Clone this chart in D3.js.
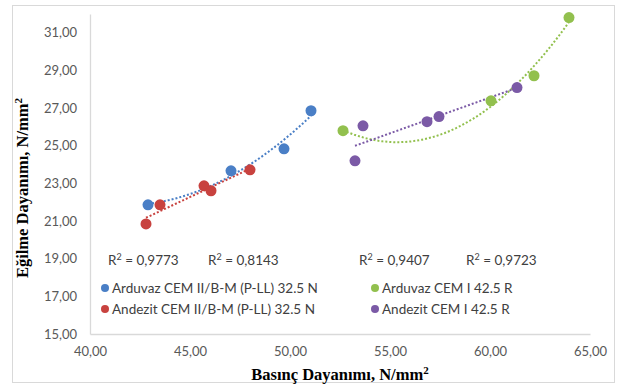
<!DOCTYPE html>
<html>
<head>
<meta charset="utf-8">
<script src="https://cdn.jsdelivr.net/npm/d3@7/dist/d3.min.js"></script>
<style>
	html, body { margin: 0; padding: 0; background: #fff; }
	svg { display: block; }
	.tick text { font-family: Lato, "Open Sans", sans-serif; font-size: 13px; fill: #595959; }
	.axis-title { font-family: "Liberation Serif", "Times New Roman", serif; font-weight: bold; font-size: 16.5px; fill: #000; }
	.lbl { font-family: Lato, "Open Sans", sans-serif; font-size: 13.5px; fill: #404040; }
</style>
</head>
<body>
<div id="js-chart"></div>
<script>
// ticks
const xTicks = [40, 45, 50, 55, 60, 65];
const yTicks = [15, 17, 19, 21, 23, 25, 27, 29, 31];

// series names
const seriesNames = [
	'Arduvaz CEM II/B-M (P-LL) 32.5 N',
	'Andezit CEM II/B-M (P-LL) 32.5 N',
	'Arduvaz CEM I 42.5 R',
	'Andezit CEM I 42.5 R'
];
const seriesColors = ['#4a7fc6', '#c8423f', '#92c04e', '#7b5aa6'];

// basinç (x) / egilme (y) values
const arduvazIIx = [42.9, 47.05, 49.7, 51.05];
const arduvazIIy = [21.86, 23.67, 24.84, 26.86];
const andezitIIx = [42.8, 43.5, 45.7, 46.05, 48.0];
const andezitIIy = [20.85, 21.86, 22.87, 22.61, 23.72];
const arduvazIx = [52.65, 60.05, 62.2, 63.95];
const arduvazIy = [25.8, 27.39, 28.72, 31.81];
const andezitIx = [53.25, 53.65, 56.85, 57.45, 61.35];
const andezitIy = [24.2, 26.06, 26.28, 26.55, 28.09];

// trendline order per series (2 = polynomial, 1 = linear)
const trendOrder = [2, 1, 2, 1];
const r2Labels = ['0,9773', '0,8143', '0,9407', '0,9723'];

const width = 617, height = 385;
const svg = d3.select('#js-chart').append('svg')
	.attr('width', width)
	.attr('height', height);

// chart border
svg.append('rect')
	.attr('x', 12.5).attr('y', 5.5)
	.attr('width', 602).attr('height', 377)
	.attr('fill', '#fff')
	.attr('stroke', '#d9d9d9');

const x = d3.scaleLinear().domain([40, 65]).range([90, 590]);
const y = d3.scaleLinear().domain([15, 32]).range([334, 14]);

const fmt = d3.formatLocale({ decimal: ',', thousands: '.', grouping: [3], currency: ['', ''] }).format('.2f');

const gy = svg.append('g')
	.attr('transform', 'translate(90,0)')
	.call(d3.axisLeft(y).tickValues(yTicks).tickSize(0).tickPadding(13).tickFormat(fmt));
const gx = svg.append('g')
	.attr('transform', 'translate(0,334)')
	.call(d3.axisBottom(x).tickValues(xTicks).tickSize(0).tickPadding(13).tickFormat(fmt));
svg.selectAll('.domain').attr('stroke', '#d9d9d9').attr('stroke-width', 1.3);

// axis titles
const xt = svg.append('text')
	.attr('class', 'axis-title')
	.attr('x', 340).attr('y', 380)
	.attr('text-anchor', 'middle');
xt.append('tspan').text('Basınç Dayanımı, N/mm');
xt.append('tspan').attr('dy', -6).attr('font-size', '11px').text('2');

const yt = svg.append('text')
	.attr('class', 'axis-title')
	.attr('transform', 'translate(28,188) rotate(-90)')
	.attr('text-anchor', 'middle');
yt.append('tspan').text('Eğilme Dayanımı, N/mm');
yt.append('tspan').attr('dy', -6).attr('font-size', '11px').text('2');

// least squares fit
function polyfit(xs, ys, order) {
	const n = order + 1;
	const A = [];
	for (let i = 0; i < n; i++) {
		A.push([]);
		for (let j = 0; j < n; j++) A[i].push(d3.sum(xs, v => Math.pow(v, i + j)));
		A[i].push(d3.sum(xs, (v, k) => Math.pow(v, i) * ys[k]));
	}
	for (let i = 0; i < n; i++) {
		for (let r = i + 1; r < n; r++) {
			const f = A[r][i] / A[i][i];
			for (let c = i; c <= n; c++) A[r][c] -= f * A[i][c];
		}
	}
	const coef = new Array(n).fill(0);
	for (let i = n - 1; i >= 0; i--) {
		let s = A[i][n];
		for (let c = i + 1; c < n; c++) s -= A[i][c] * coef[c];
		coef[i] = s / A[i][i];
	}
	return v => coef.reduce((acc, c, i) => acc + c * Math.pow(v, i), 0);
}

const series = [
	[arduvazIIx, arduvazIIy],
	[andezitIIx, andezitIIy],
	[arduvazIx, arduvazIy],
	[andezitIx, andezitIy]
];

const line = d3.line().x(d => x(d[0])).y(d => y(d[1]));

// trendlines
series.forEach((s, i) => {
	const f = polyfit(s[0], s[1], trendOrder[i]);
	const [lo, hi] = d3.extent(s[0]);
	const pts = d3.range(0, 41).map(k => {
		const v = lo + (hi - lo) * k / 40;
		return [v, f(v)];
	});
	svg.append('path')
		.attr('d', line(pts))
		.attr('fill', 'none')
		.attr('stroke', seriesColors[i])
		.attr('stroke-width', 2)
		.attr('stroke-dasharray', '2,2');
});

// points
series.forEach((s, i) => {
	svg.append('g').selectAll('circle')
		.data(s[0].map((v, k) => [v, s[1][k]]))
		.enter().append('circle')
		.attr('cx', d => x(d[0]))
		.attr('cy', d => y(d[1]))
		.attr('r', 5.5)
		.attr('fill', seriesColors[i]);
});

// R2 labels
const r2x = [108, 208, 359, 466];
r2Labels.forEach((t, i) => {
	const tx = svg.append('text').attr('class', 'lbl')
		.attr('x', r2x[i]).attr('y', 265);
	tx.append('tspan').text('R');
	tx.append('tspan').attr('dy', -5).attr('font-size', '9px').text('2');
	tx.append('tspan').attr('dy', 5).text(' = ' + t);
});

// legend
const legX = [105, 375];
const legY = [288, 309];
seriesNames.forEach((name, i) => {
	const col = i === 0 || i === 1 ? 0 : 1;
	const row = i % 2;
	const g = svg.append('g').attr('transform', `translate(${legX[col]},${legY[row]})`);
	g.append('circle').attr('r', 4).attr('fill', seriesColors[i]);
	g.append('text').attr('class', 'lbl').attr('x', 7).attr('y', 4.5).text(name);
});
</script>
</body>
</html>
